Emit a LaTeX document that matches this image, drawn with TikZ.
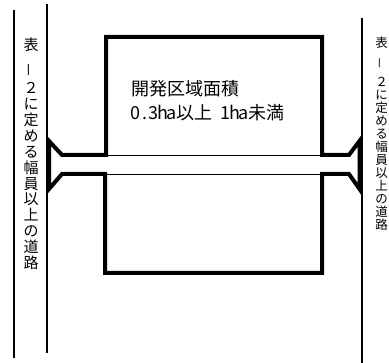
\documentclass[tikz,border=0pt]{standalone}
\usepackage{fontspec}
\setmainfont{Noto Sans CJK JP}
\newcommand\halfw[1]{\makebox[0.5em]{#1}}
\begin{document}
\begin{tikzpicture}[x=1pt,y=-1pt,
  road/.style={line width=1.1pt},
  wall/.style={line width=4pt, line join=miter},
  thinline/.style={line width=0.8pt},
  lab/.style={inner sep=0pt, anchor=west, font=\fontsize{18}{20}\selectfont},
  lc/.style={inner sep=0pt, font=\fontsize{15}{17}\selectfont},
  rc/.style={inner sep=0pt, font=\fontsize{12.5}{15}\selectfont}]
\useasboundingbox (0,0) rectangle (389,363);
% road edge lines
\coordinate (l1a) at (14,10);  \coordinate (l1b) at (14,358);
\coordinate (l2a) at (47,4);   \coordinate (l2b) at (47,353);
\coordinate (r1a) at (362,18); \coordinate (r1b) at (362,363);
\draw[road] (l1a) -- (l1b);
\draw[road] (l2a) -- (l2b);
\draw[road] (r1a) -- (r1b);
% development area outline with access road
\draw[wall] (49,141) -- (62,155) -- (106,155) -- (106,37) -- (322,37) -- (322,155)
  -- (349,155) -- (359.5,141) -- (359.5,189) -- (349,174) -- (322,174) -- (322,273)
  -- (105,273) -- (105,174) -- (62,174) -- (49,189) -- cycle;
\coordinate (t1a) at (106,155.5); \coordinate (t1b) at (322,155.5);
\coordinate (t2a) at (105,174);   \coordinate (t2b) at (322,174);
\draw[thinline] (t1a) -- (t1b);
\draw[thinline] (t2a) -- (t2b);
% labels
\node[lab] (area1) at (131,88.5) {開発区域面積};
\node[lab] (area2) at (131,112.5) {\halfw{0}\halfw{.}\halfw{3}\halfw{h}\halfw{a}以上\halfw{}\halfw{1}\halfw{h}\halfw{a}未満};
% left vertical text
\node[lc] (lt1) at (31,45) {表};
\node[lc, rotate=90] (lt2) at (31,70) {－};
\foreach \c/\y [count=\i] in {２/88,に/104,定/120,め/136,る/152,幅/168,員/184,以/199,上/215,の/231,道/247,路/263}
  \node[lc] (lv\i) at (31,\y) {\c};
% right vertical text
\node[rc] (rt1) at (381.5,43) {表};
\node[rc, rotate=90] (rt2) at (381.5,63) {－};
\foreach \c/\y [count=\i] in {２/82,に/95,定/108,め/121,る/134,幅/147,員/160,以/173,上/186,の/199,道/212,路/225}
  \node[rc] (rv\i) at (381.5,\y) {\c};
\end{tikzpicture}
\end{document}
